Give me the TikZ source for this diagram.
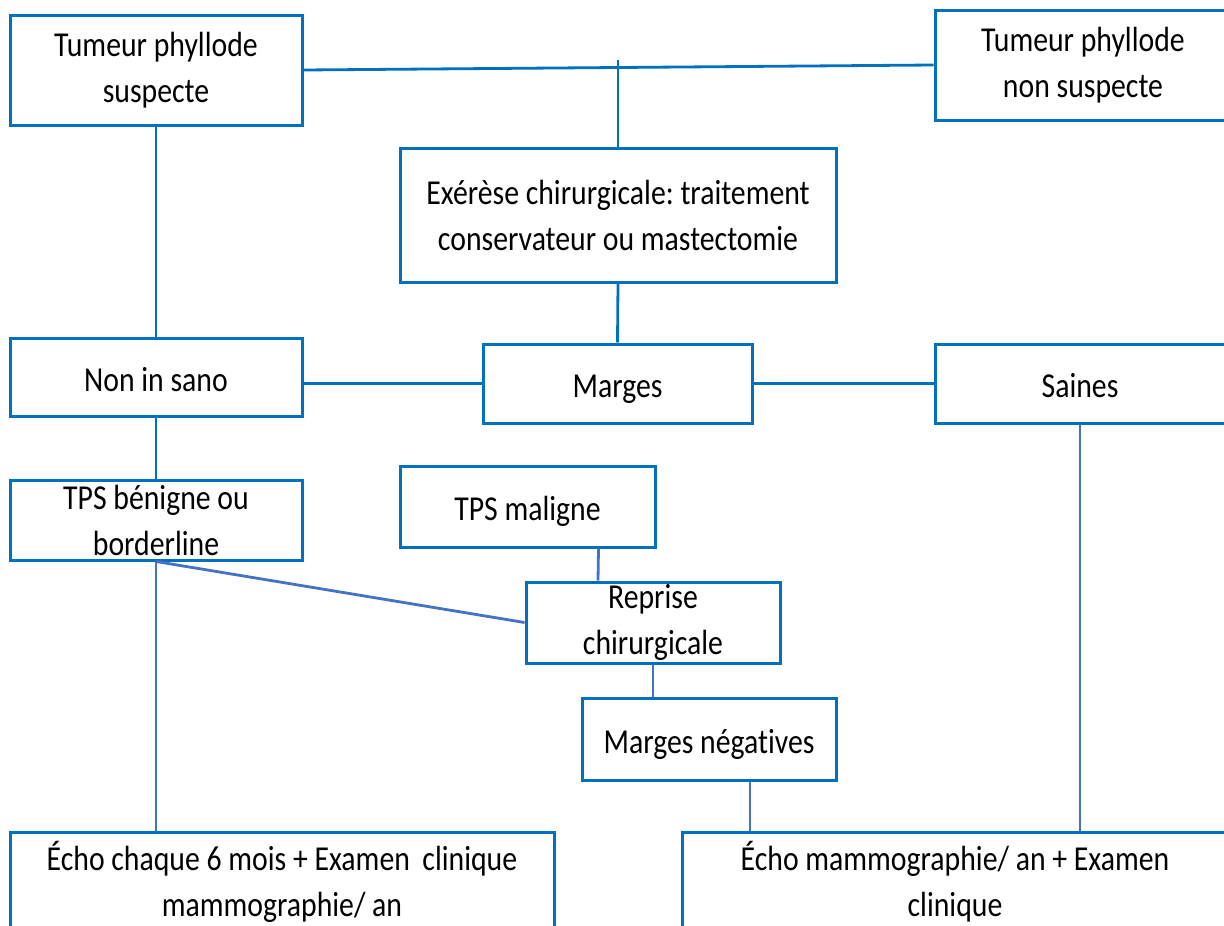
\documentclass[tikz,border=0pt]{standalone}
\usepackage{fontspec}
\setmainfont{Carlito}[FakeStretch=0.85,Ligatures=NoCommon]
\frenchspacing
\usetikzlibrary{positioning}
\definecolor{boxblue}{RGB}{0,112,192}
\definecolor{lineblue}{RGB}{68,114,196}
\tikzset{
  box/.style={draw=boxblue, line width=3pt, align=center, inner sep=0pt,
    font=\fontsize{35}{46}\selectfont},
  oneline/.style={text height=36pt, text depth=7.5pt},
  link/.style={draw=boxblue, line width=2.8pt},
  thinlink/.style={draw=lineblue, line width=2.8pt}
}

\begin{document}
\begin{tikzpicture}[x=1pt,y=-1pt]
\useasboundingbox (0,0) rectangle (1224,926);
\clip (0,0) rectangle (1224,926);
\node[box, minimum width=292, minimum height=110] (T1) at (156,70) {Tumeur phyllode\\suspecte};
\node[box, minimum width=296, minimum height=110] (T2) at (1083,65) {Tumeur phyllode\\non suspecte};
\node[box, minimum width=436, minimum height=134] (EX) at (618,215) {Exérèse chirurgicale: traitement\\conservateur ou mastectomie};
\node[box, oneline, minimum width=292, minimum height=78] (NIS) at (156,377) {Non in sano};
\node[box, oneline, minimum width=269, minimum height=79] (M) at (617.5,383.5) {Marges};
\node[box, oneline, minimum width=290, minimum height=79] (S) at (1080,383.5) {Saines};
\node[box, minimum width=292, minimum height=80] (TB) at (156,520) {TPS bénigne ou\\borderline};
\node[box, oneline, minimum width=255, minimum height=81] (TM) at (527.5,506.5) {TPS maligne};
\node[box, minimum width=254, minimum height=81] (RC) at (653,622.5) {Reprise\\chirurgicale};
\node[box, oneline, minimum width=254, minimum height=82] (MN) at (709,739) {Marges négatives};
\node[box, minimum width=544, minimum height=100] (EC) at (282,882) {Écho chaque 6 mois + Examen\ \,clinique\\mammographie/ an};
\node[box, minimum width=546, minimum height=100] (EM) at (955,882) {Écho mammographie/ an + Examen\\clinique};
\coordinate (tick) at (618,60);
\path[link]
(T1.east) edge (T2.west)
(tick) edge (EX.north)
(EX.south) edge (M.north)
(T1.south) edge (NIS.north)
(M.west -| NIS.east) edge (M.west)
(M.east) edge (S.west)
(NIS.south) edge (TB.north);
\path[thinlink]
(TB.south) edge (TB.south |- EC.north)
(TB.south) edge (RC.west)
([xshift=71pt]TM.south) edge ([xshift=-55pt]RC.north)
(RC.south) edge (RC.south |- MN.north)
([xshift=41pt]MN.south) edge ([xshift=41pt]MN.south |- EM.north)
(S.south) edge (S.south |- EM.north);
\end{tikzpicture}
\end{document}
